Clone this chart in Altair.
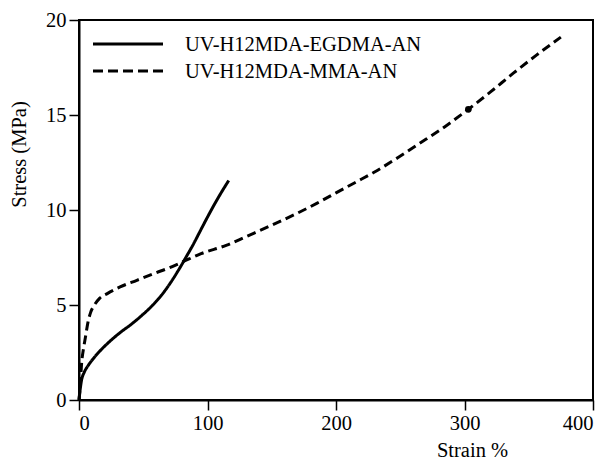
import altair as alt
import pandas as pd

# Stress-strain curves of the two UV-cured networks
series_names = ["UV-H12MDA-EGDMA-AN", "UV-H12MDA-MMA-AN"]

egdma_strain = [0, 1, 2, 4, 7, 12, 18, 25, 33, 40, 48, 56, 64, 71, 78, 84, 89, 94, 99, 105, 111, 116.5]
egdma_stress = [0, 0.6, 1.05, 1.45, 1.8, 2.25, 2.7, 3.15, 3.6, 3.95, 4.4, 4.9, 5.5, 6.15, 6.9, 7.6,
                8.2, 8.85, 9.5, 10.25, 10.95, 11.55]

mma_strain = [0, 1, 2, 3.5, 5, 7, 9, 12, 16, 22, 32, 45, 58, 70, 81, 95, 115, 130, 150, 169,
              185, 200, 215, 230, 248, 265, 285, 303, 320, 338, 356, 375]
mma_stress = [0, 0.8, 1.9, 2.7, 3.3, 4.1, 4.6, 5.0, 5.35, 5.6, 5.95, 6.3, 6.65, 6.95, 7.28, 7.7, 8.15,
              8.6, 9.2, 9.8, 10.35, 10.9, 11.45, 12.0, 12.75, 13.5, 14.4, 15.3, 16.2, 17.2, 18.15, 19.1]

marker_strain = [303]
marker_stress = [15.3]

x_ticks = [0, 100, 200, 300, 400]
y_ticks = [0, 5, 10, 15, 20]

curves = pd.concat([
    pd.DataFrame({"strain": egdma_strain, "stress": egdma_stress, "series": series_names[0]}),
    pd.DataFrame({"strain": mma_strain, "stress": mma_stress, "series": series_names[1]}),
], ignore_index=True)
curves["order"] = range(len(curves))

marker = pd.DataFrame({"strain": marker_strain, "stress": marker_stress})

FONT = "Liberation Serif, Times New Roman, serif"
FS = 20.5
DASHES = [[1, 0], [9, 5]]

x_enc = alt.X(
    "strain:Q",
    scale=alt.Scale(domain=[0, 400], nice=False),
    axis=alt.Axis(values=x_ticks, title="Strain %", titleX=393, titleY=56,
                  titleAlign="center", titleBaseline="alphabetic"),
)
y_enc = alt.Y(
    "stress:Q",
    scale=alt.Scale(domain=[0, 20], nice=False),
    axis=alt.Axis(values=y_ticks, title="Stress (MPa)", titleX=-60, titleY=134,
                  titleAngle=-90, titleAlign="center", titleBaseline="middle"),
)

lines = alt.Chart(curves).mark_line(color="black", strokeWidth=3, interpolate="monotone").encode(
    x=x_enc,
    y=y_enc,
    order="order:Q",
    strokeDash=alt.StrokeDash(
        "series:N",
        scale=alt.Scale(domain=series_names, range=DASHES),
        legend=None,
    ),
)

dot = alt.Chart(marker).mark_point(filled=True, color="black", size=45, opacity=1).encode(
    x="strain:Q", y="stress:Q"
)

# Key in the upper-left corner: a line sample and a label for each series
key_layers = []
for i, name in enumerate(series_names):
    row = pd.DataFrame({"series": [name]})
    y_line = 24 + 27 * i
    key_layers.append(
        alt.Chart(row).mark_rule(color="black", strokeWidth=3, strokeDash=[10, 5] if i else [1, 0]).encode(
            x=alt.value(14), x2=alt.value(84), y=alt.value(y_line)
        )
    )
    key_layers.append(
        alt.Chart(row).mark_text(
            align="left", baseline="alphabetic", font=FONT, fontSize=FS, color="black"
        ).encode(x=alt.value(106), y=alt.value(y_line + 7), text="series:N")
    )

chart = (
    alt.layer(lines, dot, *key_layers)
    .properties(
        width=514,
        height=380,
        autosize=alt.AutoSizeParams(type="none"),
        padding={"left": 79, "top": 20, "right": 16, "bottom": 59},
        background="white",
    )
    .configure_view(stroke="black", strokeWidth=2)
    .configure_axis(
        grid=False,
        domainColor="black",
        domainWidth=2,
        tickColor="black",
        tickWidth=1.5,
        tickSize=10,
        labelFont=FONT,
        labelFontSize=FS,
        labelColor="black",
        labelPadding=3,
        titleFont=FONT,
        titleFontSize=FS,
        titleFontWeight="normal",
        titleColor="black",
    )
)

chart.save("out.html", embed_options={"renderer": "svg", "actions": False})
